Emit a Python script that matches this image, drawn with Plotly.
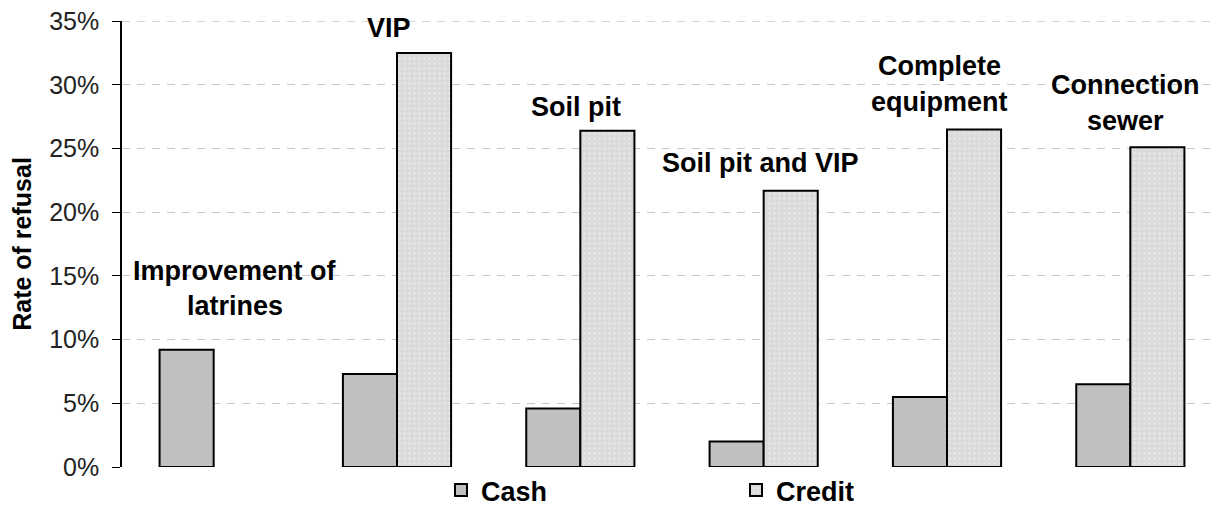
import plotly.graph_objects as go

# data
categories = ["Improvement of latrines", "VIP", "Soil pit", "Soil pit and VIP",
              "Complete equipment", "Connection sewer"]
cash = [0.092, 0.073, 0.046, 0.020, 0.055, 0.065]
credit = [None, 0.325, 0.264, 0.217, 0.265, 0.251]
y_ticks = [0, 0.05, 0.10, 0.15, 0.20, 0.25, 0.30, 0.35]

# category labels drawn above the bars: (category, line text, y value, x shift px)
label_lines = [
    ("Improvement of latrines", "Improvement of", 0.1539, 21),
    ("Improvement of latrines", "latrines", 0.1262, 21),
    ("VIP", "VIP", 0.3445, -8),
    ("Soil pit", "Soil pit", 0.2828, -4),
    ("Soil pit and VIP", "Soil pit and VIP", 0.239, -3),
    ("Complete equipment", "Complete", 0.3148, -8),
    ("Complete equipment", "equipment", 0.2867, -8),
    ("Connection sewer", "Connection", 0.300, -5),
    ("Connection sewer", "sewer", 0.272, -5),
]

FONT = "Liberation Sans, Arial, sans-serif"

fig = go.Figure()
fig.add_trace(go.Bar(
    x=categories, y=cash, name="<b>Cash</b>",
    marker=dict(color="#C0C0C0", line=dict(color="#000000", width=2)),
))
fig.add_trace(go.Bar(
    x=categories, y=credit, name="<b>Credit</b>",
    marker=dict(color="#DADADA", line=dict(color="#000000", width=2),
                pattern=dict(shape=".", fgcolor="#F2F2F2", bgcolor="#DADADA",
                             size=5, solidity=0.25)),
))

for cat, txt, yv, dx in label_lines:
    fig.add_annotation(x=cat, y=yv, xref="x", yref="y", text=f"<b>{txt}</b>",
                       showarrow=False, xshift=dx, yanchor="middle",
                       font=dict(family=FONT, size=27, color="#000000"))

# top gridline (plotly skips the one lying on the plot edge)
fig.add_hline(y=y_ticks[-1], line=dict(color="#C8C8C8", width=1, dash="8px,7px"),
              layer="below")

# the page body has an 8px margin, so the figure is drawn 8px smaller
fig.update_layout(
    width=1214, height=507,
    margin=dict(l=114, r=0, t=13, b=46),
    paper_bgcolor="white", plot_bgcolor="white",
    barmode="group", bargap=0.41, bargroupgap=0,
    font=dict(family=FONT, color="#222222"),
    showlegend=True,
    legend=dict(orientation="h", x=0.29, xanchor="left", y=-0.0536, yanchor="middle",
                entrywidth=250, entrywidthmode="pixels",
                font=dict(family=FONT, size=27, color="#000000"),
                bgcolor="rgba(0,0,0,0)"),
)
fig.update_xaxes(showticklabels=False, showline=False, ticks="", showgrid=False)
fig.update_yaxes(
    range=[0, 0.3502], tickmode="array", tickvals=y_ticks,
    ticktext=[f"{round(v * 100)}%" for v in y_ticks], ticklabeloverflow="allow",
    showline=True, linecolor="#000000", linewidth=1.5,
    ticks="outside", ticklen=8, tickcolor="#000000", ticklabelstandoff=8,
    tickfont=dict(family=FONT, size=25, color="#222222"),
    showgrid=True, gridcolor="#C8C8C8", gridwidth=1, griddash="8px,7px",
    zeroline=False,
    title=dict(text="<b>Rate of refusal</b>", standoff=12,
               font=dict(family=FONT, size=25, color="#000000")),
)

fig.write_html("out.html")
